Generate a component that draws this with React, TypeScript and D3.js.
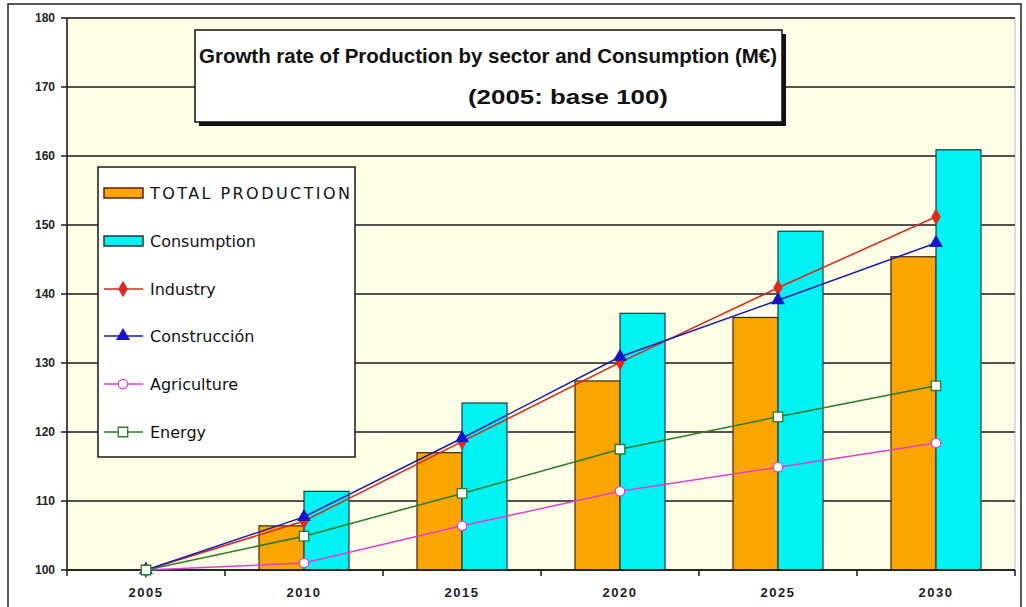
import React from "react";
import * as d3 from "d3";

const years = ["2005", "2010", "2015", "2020", "2025", "2030"];
const totalProduction = [100, 106.4, 117.0, 127.4, 136.6, 145.4];
const consumption = [100, 111.4, 124.2, 137.2, 149.1, 160.9];
const industry = [100, 107.1, 118.6, 130.1, 140.9, 151.2];
const construccion = [100, 107.7, 119.1, 130.9, 139.1, 147.4];
const agriculture = [100, 101.0, 106.4, 111.4, 114.9, 118.4];
const energy = [100, 104.9, 111.1, 117.5, 122.2, 126.7];
const yTicks = [100, 110, 120, 130, 140, 150, 160, 170, 180];

const titleLine1 = "Growth rate of Production by sector and Consumption (M€)";
const titleLine2 = "(2005: base 100)";

const W = 1026;
const H = 607;
const plot = { left: 67, right: 1015, top: 18, bottom: 570 };

const ORANGE = "#FBA500";
const CYAN = "#00F2F2";

type LineSeries = {
  name: string;
  values: number[];
  color: string;
  symbol: d3.SymbolType;
  size: number;
  fill: string;
};

const lineSeries: LineSeries[] = [
  { name: "Industry", values: industry, color: "#D8281C", symbol: d3.symbolDiamond, size: 55, fill: "#E02A1C" },
  { name: "Construcción", values: construccion, color: "#1A1AB0", symbol: d3.symbolTriangle, size: 60, fill: "#1414D8" },
  { name: "Agriculture", values: agriculture, color: "#E040D0", symbol: d3.symbolCircle, size: 70, fill: "#FFFFFF" },
  { name: "Energy", values: energy, color: "#2A7A2A", symbol: d3.symbolSquare, size: 90, fill: "#FFFFFF" },
];

export default function App() {
  const x = d3.scaleBand<string>().domain(years).range([plot.left, plot.right]).padding(0);
  const y = d3.scaleLinear().domain([100, 180]).range([plot.bottom, plot.top]);
  const sub = d3.scaleBand<string>().domain(["prod", "cons"]).range([-45, 45]).padding(0);
  const cx = (yr: string) => (x(yr) as number) + x.bandwidth() / 2;

  const lineGen = (vals: number[]) =>
    d3
      .line<number>()
      .x((_, i) => cx(years[i]))
      .y((v) => y(v))(vals) as string;

  const boundaries = years.map((yr) => x(yr) as number).concat([plot.right]);

  const legendX = 98;
  const legendY = 167;
  const legendRows = [193, 241, 289, 336, 384, 432];

  return (
    <svg
      width={W}
      height={H}
      style={{ position: "absolute", left: 0, top: 0, display: "block", background: "#fff" }}
      fontFamily="Liberation Sans, Arial, sans-serif"
    >
      <rect x={8} y={4} width={1013} height={620} fill="#fff" stroke="#222" strokeWidth={1.5} />
      {/* plot background */}
      <rect
        x={plot.left}
        y={plot.top}
        width={plot.right - plot.left}
        height={plot.bottom - plot.top}
        fill="#FEFDE6"
        stroke="#bbb"
        strokeWidth={1}
      />
      {/* gridlines */}
      {yTicks.map((t) => (
        <g key={t}>
          <line x1={plot.left} x2={plot.right} y1={y(t)} y2={y(t)} stroke="#1a1a1a" strokeWidth={1.5} />
          <line x1={61} x2={plot.left} y1={y(t)} y2={y(t)} stroke="#1a1a1a" strokeWidth={1.5} />
          <text
            x={55}
            y={y(t)}
            dy="0.35em"
            textAnchor="end"
            fontSize={12}
            fontWeight="bold"
            fill="#222"
          >
            {t}
          </text>
        </g>
      ))}
      {/* y axis line */}
      <line x1={plot.left} x2={plot.left} y1={plot.top} y2={plot.bottom} stroke="#1a1a1a" strokeWidth={1.5} />
      {/* bars */}
      {years.map((yr, i) => (
        <g key={yr}>
          <rect
            x={cx(yr) + (sub("prod") as number)}
            y={y(totalProduction[i])}
            width={sub.bandwidth()}
            height={y(100) - y(totalProduction[i])}
            fill={ORANGE}
            stroke="#3a2a10"
            strokeWidth={1.2}
          />
          <rect
            x={cx(yr) + (sub("cons") as number)}
            y={y(consumption[i])}
            width={sub.bandwidth()}
            height={y(100) - y(consumption[i])}
            fill={CYAN}
            stroke="#1f3a3a"
            strokeWidth={1.2}
          />
        </g>
      ))}
      {/* x axis */}
      <line x1={plot.left} x2={plot.right} y1={plot.bottom} y2={plot.bottom} stroke="#1a1a1a" strokeWidth={1.5} />
      {boundaries.map((bx, i) => (
        <line key={i} x1={bx} x2={bx} y1={plot.bottom} y2={plot.bottom + 6} stroke="#1a1a1a" strokeWidth={1.5} />
      ))}
      {years.map((yr) => (
        <text
          key={yr}
          x={cx(yr)}
          y={592}
          dy="0.35em"
          textAnchor="middle"
          fontSize={13}
          fontWeight="bold"
          fill="#222"
          letterSpacing={1.5}
        >
          {yr}
        </text>
      ))}
      {/* lines */}
      {lineSeries.map((s) => (
        <path key={s.name} d={lineGen(s.values)} fill="none" stroke={s.color} strokeWidth={1.5} />
      ))}
      {lineSeries.map((s) =>
        s.values.map((v, i) => (
          <path
            key={s.name + i}
            d={d3.symbol().type(s.symbol).size(s.size)() as string}
            transform={`translate(${cx(years[i])},${y(v)})`}
            fill={s.fill}
            stroke={s.color}
            strokeWidth={1.3}
          />
        ))
      )}
      {/* legend */}
      <rect x={legendX} y={legendY} width={257} height={290} fill="#fff" stroke="#1a1a1a" strokeWidth={1.5} />
      <g fontFamily="DejaVu Sans, Verdana, sans-serif" fontSize={16} fill="#111">
        <rect x={104} y={legendRows[0] - 5} width={39} height={10} fill={ORANGE} stroke="#6a1a0a" strokeWidth={1.5} />
        <text x={150} y={legendRows[0]} dy="0.36em" textLength={200} lengthAdjust="spacing">
          TOTAL PRODUCTION
        </text>
        <rect x={104} y={legendRows[1] - 5} width={39} height={10} fill={CYAN} stroke="#1f3a3a" strokeWidth={1.5} />
        <text x={150} y={legendRows[1]} dy="0.36em">
          Consumption
        </text>
        {lineSeries.map((s, k) => {
          const ry = legendRows[k + 2];
          return (
            <g key={s.name}>
              <line x1={104} x2={143} y1={ry} y2={ry} stroke={s.color} strokeWidth={1.5} />
              <path
                d={d3.symbol().type(s.symbol).size(s.size)() as string}
                transform={`translate(123,${ry})`}
                fill={s.fill}
                stroke={s.color}
                strokeWidth={1.3}
              />
              <text x={150} y={ry} dy="0.36em">
                {s.name}
              </text>
            </g>
          );
        })}
      </g>
      {/* title */}
      <rect x={199} y={34} width={587} height={92} fill="#111" />
      <rect x={195} y={30} width={587} height={92} fill="#fff" stroke="#111" strokeWidth={1.5} />
      <text
        x={488}
        y={56}
        dy="0.35em"
        textAnchor="middle"
        fontSize={21}
        fontWeight="bold"
        fill="#111"
        textLength={578}
        lengthAdjust="spacingAndGlyphs"
      >
        {titleLine1}
      </text>
      <text
        x={568}
        y={97}
        dy="0.35em"
        textAnchor="middle"
        fontSize={21}
        fontWeight="bold"
        fill="#111"
        textLength={200}
        lengthAdjust="spacingAndGlyphs"
      >
        {titleLine2}
      </text>
    </svg>
  );
}
